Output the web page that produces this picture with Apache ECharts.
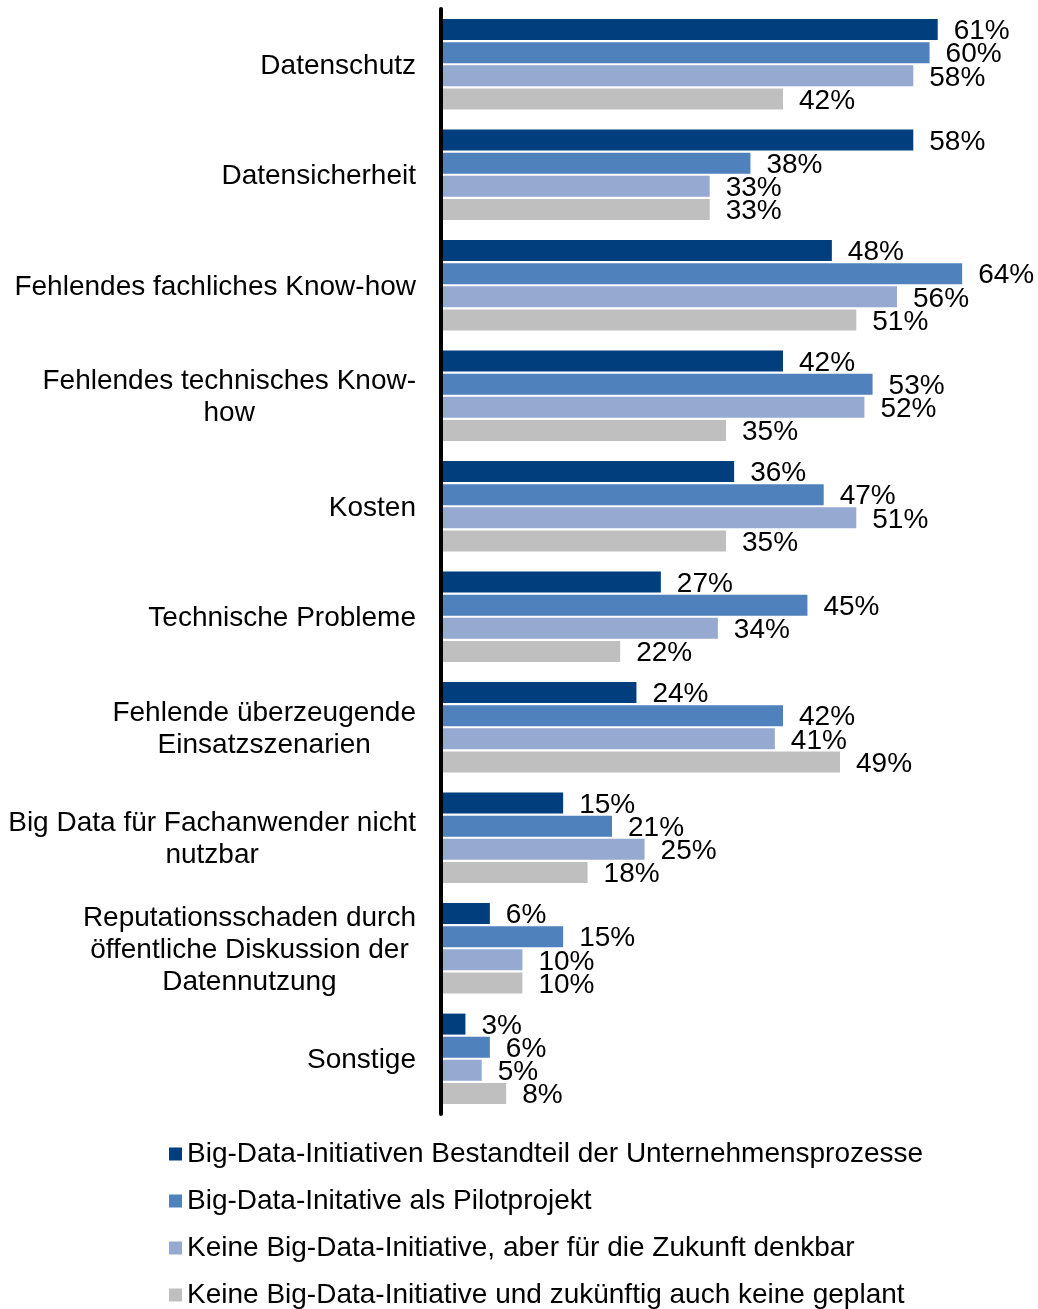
<!DOCTYPE html>
<html>
<head>
<meta charset="utf-8">
<script src="https://cdn.jsdelivr.net/npm/echarts@6/dist/echarts.min.js"></script>
<style>
  html, body { margin: 0; padding: 0; background: #fff; }
  #chart { width: 1038px; height: 1309px; }
</style>
</head>
<body>
<div id="chart"></div>
<script>
const categories = [
  'Datenschutz',
  'Datensicherheit',
  'Fehlendes fachliches Know-how',
  'Fehlendes technisches Know-\nhow',
  'Kosten',
  'Technische Probleme',
  'Fehlende überzeugende\nEinsatzszenarien',
  'Big Data für Fachanwender nicht\nnutzbar',
  'Reputationsschaden durch\nöffentliche Diskussion der\nDatennutzung',
  'Sonstige'
]
const seriesNames = [
  'Big-Data-Initiativen Bestandteil der Unternehmensprozesse',
  'Big-Data-Initative als Pilotprojekt',
  'Keine Big-Data-Initiative, aber für die Zukunft denkbar',
  'Keine Big-Data-Initiative und zukünftig auch keine geplant'
]
const bestandteil = [61, 58, 48, 42, 36, 27, 24, 15, 6, 3]
const pilot = [60, 38, 64, 53, 47, 45, 42, 21, 15, 6]
const denkbar = [58, 33, 56, 52, 51, 34, 41, 25, 10, 5]
const keine = [42, 33, 51, 35, 35, 22, 49, 18, 10, 8]

const color = ['#003E7E', '#4F81BD', '#95A9D1', '#BFBFBF']
const font = '"Liberation Sans", Arial, sans-serif'
const fs = 28

const chart = echarts.init(document.getElementById('chart'))

const seriesData = [bestandteil, pilot, denkbar, keine]
const series = seriesData.map((d, i) => ({
  name: seriesNames[i],
  type: 'bar',
  data: d,
  barWidth: 21,
  barGap: '10%',
  animation: false,
  itemStyle: { color: color[i] },
  label: {
    show: true,
    position: 'right',
    distance: 16,
    offset: [0, 2],
    formatter: '{c}%',
    color: '#000',
    fontFamily: font,
    fontSize: fs
  }
}))

const option = {
  backgroundColor: '#fff',
  color: color,
  grid: {
    left: 441,
    top: 9,
    width: 570,
    height: 1105,
    containLabel: false
  },
  xAxis: {
    type: 'value',
    min: 0,
    max: 70,
    show: false
  },
  yAxis: {
    type: 'category',
    inverse: true,
    z: 5,
    data: categories,
    axisLine: { show: true, lineStyle: { color: '#000', width: 4 } },
    axisTick: { show: false },
    splitLine: { show: false },
    axisLabel: {
      margin: 25,
      color: '#000',
      fontFamily: font,
      fontSize: fs,
      lineHeight: 32,
      padding: [4, 0, 0, 0],
      formatter: function (v) {
        // jede Zeile zentriert im Block
        return v.split('\n').map(s => '{c|' + s + '}').join('\n')
      },
      rich: {
        c: { align: 'center', color: '#000', fontFamily: font, fontSize: fs, lineHeight: 32 }
      }
    }
  },
  legend: {
    orient: 'vertical',
    left: 169,
    top: 1140,
    padding: 0,
    itemWidth: 13,
    itemHeight: 13,
    itemGap: 19,
    icon: 'rect',
    data: seriesNames,
    textStyle: { color: '#000', fontFamily: font, fontSize: fs, lineHeight: 28 }
  },
  series: series
}

chart.setOption(option)
</script>
</body>
</html>
